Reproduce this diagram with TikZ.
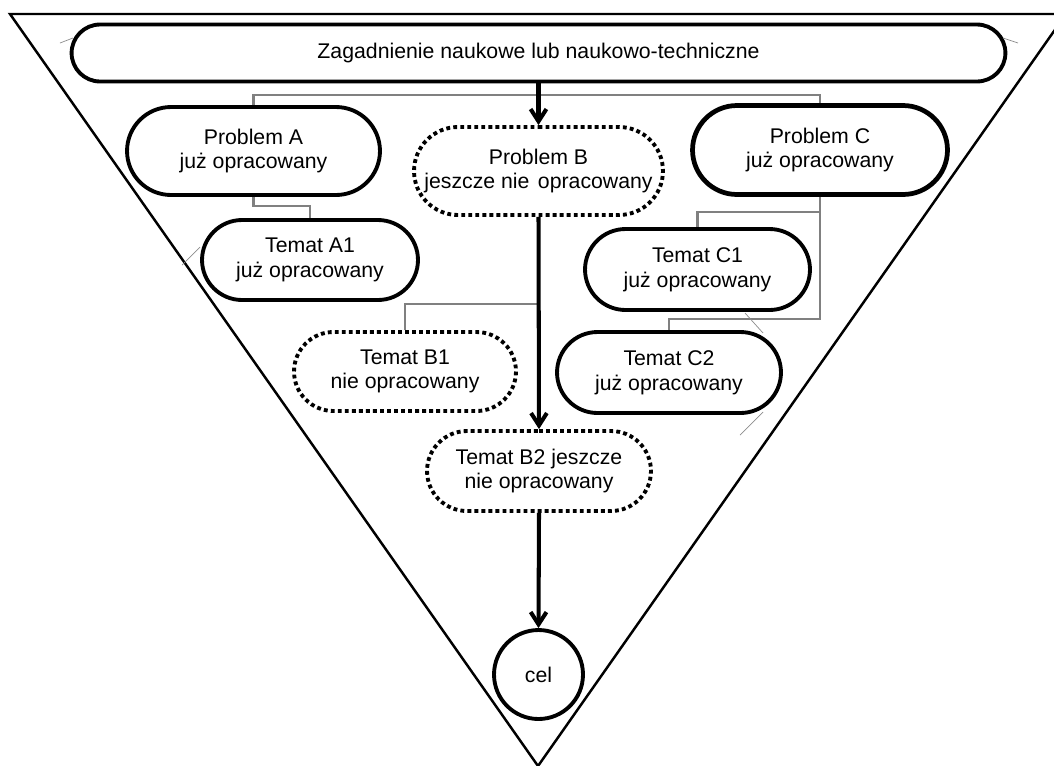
\documentclass[tikz,border=0pt]{standalone}
\usepackage{fontspec}
\setmainfont{Liberation Sans}
\usetikzlibrary{positioning}
\usetikzlibrary{shapes.misc}
\usetikzlibrary{arrows.meta}

\begin{document}
\begin{tikzpicture}[x=0.02cm,y=-0.02cm,
	box/.style={rounded rectangle,draw,line width=2.2pt,align=center,inner sep=0pt,font=\fontsize{12.1}{14}\selectfont},
	openbox/.style={box,dash pattern=on 2.2pt off 1.8pt},
	conn/.style={draw=black!50,line width=1.2pt},
	mainarrow/.style={line width=2.3pt,-{Straight Barb[length=7pt,width=9pt]}},
	rim/.style={line width=1.4pt},
	stray/.style={draw=black!45,line width=0.4pt}]
				
				\useasboundingbox (0,0) rectangle (1054,765);
				\clip (0,0) rectangle (1054,765);
				
				% funnel
				\draw[rim] (10,14) -- (1066,14) -- (538,766) -- cycle;
				
				\node[box,minimum width=18.68cm,minimum height=1.14cm] (zag) at (538.5,53) {Zagadnienie naukowe lub naukowo-techniczne};
				
				\node[box,minimum width=5.06cm,minimum height=1.76cm] (pA) at (253.5,151) {Problem A\\już opracowany};
				\node[openbox,minimum width=4.98cm,minimum height=1.76cm] (pB) at (538.5,171) {Problem B\\jeszcze nie\hspace{0.4em}opracowany};
				\node[box,line width=2.7pt,minimum width=5.1cm,minimum height=1.78cm] (pC) at (820,150) {Problem C\\już opracowany};
				
				\node[box,minimum width=4.32cm,minimum height=1.6cm] (tA1) at (310,260) {Temat A1\\już opracowany};
				\node[openbox,minimum width=4.44cm,minimum height=1.58cm] (tB1) at (405,371.5) {Temat B1\\nie opracowany};
				\node[openbox,minimum width=4.48cm,minimum height=1.6cm] (tB2) at (539,471) {Temat B2 jeszcze\\nie opracowany};
				\node[box,minimum width=4.5cm,minimum height=1.62cm] (tC1) at (697.5,269.5) {Temat C1\\już opracowany};
				\node[box,minimum width=4.48cm,minimum height=1.62cm] (tC2) at (669,372.5) {Temat C2\\już opracowany};
				
				\node[box,circle,minimum size=1.78cm] (cel) at (538.5,674.5) {cel};
				
				% grey tree
				\draw[conn] (zag.south) -- (538.5,95) -| (pA.north);
				\draw[conn] (538.5,95) -| (pC.north);
				\draw[conn] (pA.south) -- ++(0,9) -| (tA1.north);
				\draw[conn] (pC.south) -- (820,319) -| (tC2.north);
				\draw[conn] (820,212) -| (tC1.north);
				\draw[conn] (pB.south) -- (538.5,304) -| (tB1.north);
				
				% main path
				\draw[mainarrow] (zag.south) -- (pB.north);
				\draw[mainarrow] (pB.south) -- (tB2.north);
				\draw[mainarrow] (tB2.south) -- (cel.north);
				
				\draw[stray] (60,43) -- (73,38);
				\draw[stray] (1003,38) -- (1018,43);
				\draw[stray] (182,265) -- (200,247);
				\draw[stray] (745,313) -- (763,333);
				\draw[stray] (763,412) -- (740,435);
				
			\end{tikzpicture}
\end{document}
